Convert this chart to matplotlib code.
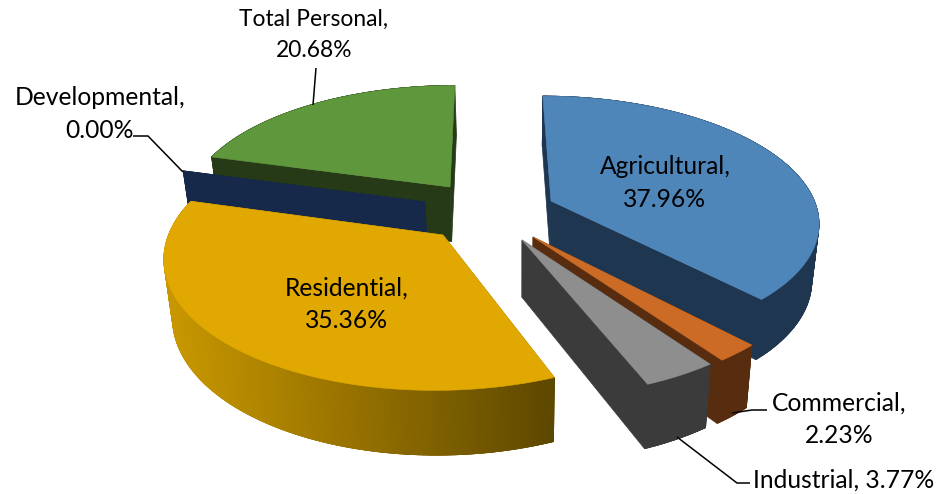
import numpy as np
import matplotlib
matplotlib.use("Agg")
import matplotlib.pyplot as plt
from matplotlib.colors import to_rgb
from matplotlib.patches import Polygon

# ---- data ----
categories = ["Agricultural", "Commercial", "Industrial", "Residential", "Developmental", "Total Personal"]
values = [37.96, 2.23, 3.77, 35.36, 0.00, 20.68]
value_labels = ["37.96%", "2.23%", "3.77%", "35.36%", "0.00%", "20.68%"]

# ---- style / layout ----
top_colors = ["#4F86BA", "#CB6B25", "#8E8E8E", "#E0A800", "#16294A", "#5F983C"]
wall_colors = ["#1F3650", "#572C0F", "#3B3B3B", "#8F6C00", "#16294A", "#263A17"]
apex_px = [(551, 201), (533, 237), (522, 240), (443, 235), (425, 202), (450, 187)]
draw_order = [5, 4, 3, 0, 1, 2]
CX, CY, RX, RY, K = 488.0, 212.0, 267.0, 124.0, 0.152
label_pos = {0: (665, 183), 1: (839, 419), 2: (844, 480), 3: (347, 304), 4: (100, 114), 5: (314, 35)}
label_size = {5: 16.4}
leaders = {
    1: [(767, 410), (752, 410), (732, 413)],
    2: [(750, 483), (737, 483), (677, 437)],
    4: [(133, 136), (148, 136), (183, 172)],
    5: [(316, 68), (313, 105)],
}
plt.rcParams["font.family"] = ["Lato", "DejaVu Sans"]
FS = 17.7


def project(px, py):
    w = 1 - K * py
    return CX + RX * px / w, CY + RY * py / w


def unproject(x, y):
    py = (y - CY) / (RY + K * (y - CY))
    px = (x - CX) * (1 - K * py) / RX
    return px, py


def drop(x, y):
    x = np.asarray(x, float)
    y = np.asarray(y, float)
    return x - (x - 520) * 0.024, y + 50 + (y - 95) * 0.05


fig = plt.figure(figsize=(9.39, 4.94), dpi=100)
ax = fig.add_axes([0, 0, 1, 1])
ax.set_xlim(0, 939)
ax.set_ylim(494, 0)
ax.axis("off")

edges = np.concatenate([[0], np.cumsum(values)]) / sum(values) * 2 * np.pi


def band(x, y, color, z):
    """Vertical wall under the polyline x, y."""
    bx, by = drop(x, y)
    pts = list(zip(x, y)) + list(zip(bx[::-1], by[::-1]))
    ax.add_patch(Polygon(pts, closed=True, facecolor=color, edgecolor=color, lw=0.5, zorder=z))


for n, i in enumerate(draw_order):
    z = 2 + n
    ox, oy = unproject(*apex_px[i])
    t = np.linspace(edges[i], edges[i + 1], max(3, int((edges[i + 1] - edges[i]) * 60)))
    ax_x, ax_y = project(ox, oy)
    xs, ys = project(ox + np.sin(t), oy - np.cos(t))
    wall = wall_colors[i]
    # radial walls, running a little way into the outer wall to hide the joint
    band(np.array([ax_x, xs[0], xs[1]]), np.array([ax_y, ys[0], ys[1]]), wall, z)
    band(np.array([ax_x, xs[-1], xs[-2]]), np.array([ax_y, ys[-1], ys[-2]]), wall, z)
    # outer wall: overlapping strips, so no seams show between them
    for j in range(len(t) - 1):
        if categories[i] == "Residential":
            f = np.clip((xs[j] - 170) / (553 - 170), 0, 1)
            c = tuple((1 - f) * np.array(to_rgb("#C79600")) + f * np.array(to_rgb("#5B4600")))
        else:
            c = wall
        stop = max(0, j - 2)
        band(xs[stop:j + 2], ys[stop:j + 2], c, z)
    # top face
    top = [(ax_x, ax_y)] + list(zip(xs, ys))
    ax.add_patch(Polygon(top, closed=True, facecolor=top_colors[i], edgecolor=top_colors[i],
                         lw=0.4, zorder=z + 0.5))

for i, pts in leaders.items():
    ax.plot(*zip(*pts), color="black", lw=1.1, zorder=20, solid_capstyle="butt")

for i, (x, y) in label_pos.items():
    sep = " " if categories[i] == "Industrial" else "\n"
    ax.text(x, y, f"{categories[i]},{sep}{value_labels[i]}", ha="center", va="center",
            fontsize=label_size.get(i, FS), color="black",
            linespacing=1.45 * FS / label_size.get(i, FS) if i in label_size else 1.48, zorder=21)

fig.savefig("out.png", dpi=100)
